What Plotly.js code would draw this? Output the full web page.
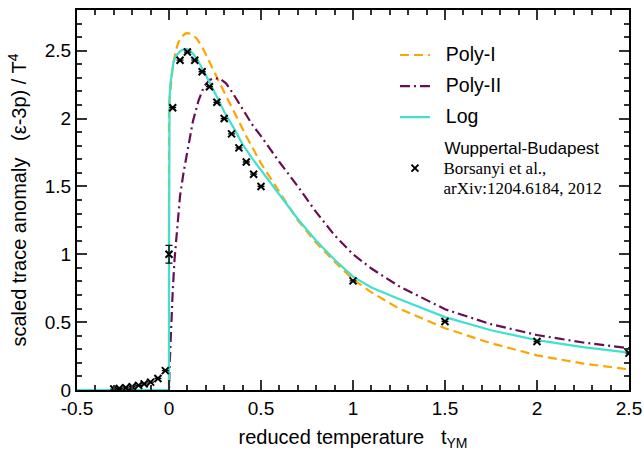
<!DOCTYPE html>
<html>
<head>
<meta charset="utf-8">
<script src="https://cdn.plot.ly/plotly-3.0.1.min.js"></script>
<style>html,body{margin:0;padding:0;background:#fff;}#chart{width:644px;height:451px;}</style>
</head>
<body>
<div id="chart"></div>
<script>
// ---- data ----
const polyIX = [-0.5, 0, 0, 0.003, 0.01, 0.02, 0.035, 0.05, 0.07, 0.09, 0.1, 0.12, 0.15, 0.18, 0.21, 0.25, 0.28, 0.35, 0.42, 0.5, 0.6, 0.7, 0.8, 0.9, 1.0, 1.1, 1.25, 1.5, 1.75, 2.0, 2.25, 2.5];
const polyIY = [0, 0, 2.1, 2.14, 2.27, 2.38, 2.49, 2.56, 2.605, 2.628, 2.63, 2.625, 2.59, 2.53, 2.445, 2.33, 2.25, 2.06, 1.87, 1.67, 1.455, 1.25, 1.085, 0.945, 0.815, 0.72, 0.6, 0.455, 0.345, 0.255, 0.195, 0.152];

const polyIIX = [-0.5, 0, 0.003, 0.01, 0.02, 0.03, 0.045, 0.06, 0.08, 0.1, 0.13, 0.16, 0.19, 0.22, 0.25, 0.28, 0.31, 0.35, 0.4, 0.45, 0.5, 0.6, 0.7, 0.8, 0.9, 1.0, 1.1, 1.25, 1.5, 1.75, 2.0, 2.25, 2.5];
const polyIIY = [0, 0, 0.17, 0.42, 0.72, 0.96, 1.23, 1.43, 1.61, 1.77, 1.98, 2.13, 2.235, 2.285, 2.298, 2.29, 2.26, 2.18, 2.07, 1.96, 1.87, 1.68, 1.50, 1.31, 1.14, 1.0, 0.895, 0.765, 0.595, 0.485, 0.405, 0.35, 0.308];

const logX = [-0.5, 0, 0, 0.001, 0.003, 0.007, 0.016, 0.025, 0.04, 0.06, 0.08, 0.095, 0.11, 0.133, 0.16, 0.19, 0.22, 0.26, 0.3, 0.35, 0.4, 0.45, 0.5, 0.6, 0.7, 0.8, 0.9, 1.0, 1.1, 1.25, 1.5, 1.75, 2.0, 2.25, 2.5];
const logY = [0, 0, 1.0, 2.0, 2.15, 2.25, 2.355, 2.42, 2.465, 2.495, 2.51, 2.513, 2.505, 2.475, 2.42, 2.35, 2.27, 2.16, 2.05, 1.935, 1.81, 1.71, 1.62, 1.44, 1.26, 1.10, 0.96, 0.835, 0.755, 0.67, 0.537, 0.44, 0.367, 0.316, 0.275];

const wbX = [-0.30, -0.27, -0.235, -0.20, -0.165, -0.135, -0.10, -0.06, -0.02, 0.0, 0.02, 0.06, 0.10, 0.14, 0.18, 0.22, 0.26, 0.30, 0.34, 0.38, 0.42, 0.46, 0.50, 1.0, 1.5, 2.0, 2.5];
const wbY = [0.007, 0.011, 0.016, 0.024, 0.034, 0.045, 0.058, 0.085, 0.143, 1.00, 2.08, 2.43, 2.49, 2.43, 2.345, 2.235, 2.12, 2.00, 1.887, 1.784, 1.68, 1.59, 1.50, 0.804, 0.505, 0.357, 0.272];
const wbErr = [0, 0, 0, 0, 0, 0, 0, 0, 0, 0.065, 0, 0, 0, 0, 0, 0, 0, 0, 0, 0, 0, 0, 0, 0, 0, 0, 0];

const xTickVals = [-0.5, 0, 0.5, 1, 1.5, 2, 2.5];
const xTickText = ['-0.5', '0', '0.5', '1', '1.5', '2', '2.5'];
const yTickVals = [0, 0.5, 1, 1.5, 2, 2.5];
const yTickText = ['0', '0.5', '1', '1.5', '2', '2.5'];

const seriesNames = ['Poly-I', 'Poly-II', 'Log'];
const wbLines = ['Wuppertal-Budapest', 'Borsanyi et al.,', 'arXiv:1204.6184, 2012'];
// ---- end data ----

const SANS = 'Liberation Sans, Arial, sans-serif';
const SERIF = 'Liberation Serif, Times New Roman, serif';
const pad = '\u00a0\u00a0';
const big = function (t) { return '<span style="font-size:19.5px">' + pad + t + '</span>'; };
const small = function (t, fam) { return '<span style="font-size:17px' + (fam ? ';font-family:' + fam : '') + '">' + pad + t + '</span>'; };

const traces = [
  {x: polyIX, y: polyIY, name: big(seriesNames[0]), legendgroup: 'g1', mode: 'lines', type: 'scatter',
   line: {color: '#ffa500', width: 2.2, dash: '9px,5px'}},
  {x: polyIIX, y: polyIIY, name: big(seriesNames[1]), legendgroup: 'g2', mode: 'lines', type: 'scatter',
   line: {color: '#6a0d52', width: 2.2, dash: '10px,4px,2px,4px'}},
  {x: logX, y: logY, name: big(seriesNames[2]), legendgroup: 'g3', mode: 'lines', type: 'scatter',
   line: {color: '#40e0d0', width: 2.2}},
  {x: wbX, y: wbY, type: 'scatter', mode: 'markers', legendgroup: 'g4',
   name: small(wbLines[0]) + '<br>' + small(wbLines[1], SERIF) + '<br>' + small(wbLines[2], SERIF),
   marker: {symbol: 'x-thin', size: 7, color: '#000', line: {color: '#000', width: 2}},
   error_y: {type: 'data', array: wbErr, visible: true, color: '#000', thickness: 1.3, width: 3.5}}
];

const axisCommon = {
  showline: true, linecolor: '#000', linewidth: 2, mirror: 'allticks',
  ticks: 'inside', ticklen: 10, tickwidth: 1.5, tickcolor: '#333',
  showgrid: false, zeroline: false,
  tickfont: {family: SANS, size: 19, color: '#000'},
  tickmode: 'array'
};

const layout = {
  width: 644, height: 451,
  margin: {l: 77, r: 15, t: 10, b: 61, pad: 0},
  paper_bgcolor: '#fff', plot_bgcolor: '#fff',
  font: {family: SANS, color: '#000'},
  showlegend: true,
  xaxis: Object.assign({}, axisCommon, {
    range: [-0.5, 2.5], tickvals: xTickVals, ticktext: xTickText,
    minor: {tickmode: 'linear', tick0: 0, dtick: 0.1, ticks: 'inside', ticklen: 5, tickwidth: 1.5, tickcolor: '#333', showgrid: false},
    title: {text: 'reduced temperature\u00a0\u00a0 t<sub>YM</sub>', font: {family: SANS, size: 20, color: '#000'}}
  }),
  yaxis: Object.assign({}, axisCommon, {
    range: [0, 2.8], tickvals: yTickVals, ticktext: yTickText,
    minor: {tickmode: 'linear', tick0: 0, dtick: 0.1, ticks: 'inside', ticklen: 5, tickwidth: 1.5, tickcolor: '#333', showgrid: false},
    title: {text: 'scaled trace anomaly\u00a0\u00a0 (\u03b5-3p) / T<sup>4</sup>', font: {family: SANS, size: 20, color: '#000'}}
  }),
  legend: {x: 0.576, y: 0.925, xanchor: 'left', yanchor: 'top', bgcolor: 'rgba(0,0,0,0)',
    font: {family: SANS, size: 15.4, color: '#000'}, borderwidth: 0, tracegroupgap: 8}
};

Plotly.newPlot('chart', traces, layout, {displayModeBar: false});
</script>
</body>
</html>
